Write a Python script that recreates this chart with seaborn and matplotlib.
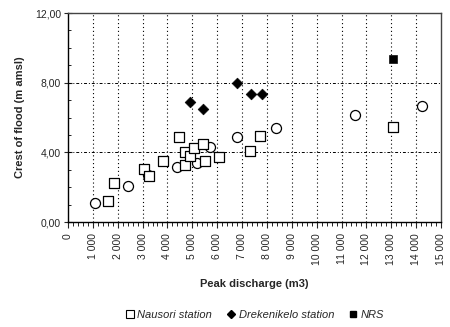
import matplotlib
matplotlib.use("Agg")
import matplotlib.pyplot as plt
from matplotlib.ticker import MultipleLocator, FuncFormatter
from matplotlib.lines import Line2D
import numpy as np
import pandas as pd
import seaborn as sns

# Nausori station (open markers; some drawn round, some square-ish)
nausori_q = [1090, 1625, 1870, 2400, 3040, 3200, 3240, 3840, 4380, 4450,
             4720, 4720, 4890, 5080, 5190, 5430, 5500, 5700, 6090, 6800,
             7340, 7740, 8350, 11530, 13050, 14230]
nausori_h = [1.11, 1.21, 2.26, 2.07, 3.03, 2.72, 2.62, 3.52, 3.14, 4.87,
             4.04, 3.28, 3.79, 4.23, 3.41, 4.48, 3.52, 4.33, 3.75, 4.87,
             4.10, 4.96, 5.42, 6.15, 5.48, 6.67]
nausori_shape = ['o', 's', 's', 'o', 's', 'o', 's', 's', 'o', 's',
                 's', 's', 's', 's', 'o', 's', 's', 'o', 's', 'o',
                 's', 's', 'o', 'o', 's', 'o']

# Drekenikelo station
drek_q = [4920, 5420, 6800, 7370, 7810]
drek_h = [6.91, 6.47, 7.97, 7.34, 7.34]

# NRS
nrs_q = [13080]
nrs_h = [9.35]

nausori = pd.DataFrame({'q': nausori_q, 'h': nausori_h, 'shape': nausori_shape})

sns.set_style("white")
plt.rcParams['font.family'] = ['Liberation Sans', 'DejaVu Sans']

fig = plt.figure(figsize=(4.5, 3.27), dpi=100)
ax = fig.add_axes([0.151, 0.321, 0.829, 0.639])

for shp, grp in nausori.groupby('shape'):
    sns.scatterplot(data=grp, x='q', y='h', marker=shp, s=52 if shp == 'o' else 42,
                    facecolor='white', edgecolor='black', linewidth=0.9,
                    legend=False, ax=ax, zorder=3)
sns.scatterplot(x=drek_q, y=drek_h, marker='D', s=30, color='black',
                edgecolor='black', legend=False, ax=ax, zorder=3)
sns.scatterplot(x=nrs_q, y=nrs_h, marker='s', s=32, color='black',
                edgecolor='black', legend=False, ax=ax, zorder=3)

ax.set_xlim(0, 15000)
ax.set_ylim(0, 12)
ax.xaxis.set_major_locator(MultipleLocator(1000))
ax.xaxis.set_minor_locator(MultipleLocator(200))
ax.yaxis.set_major_locator(MultipleLocator(4))
ax.yaxis.set_minor_locator(MultipleLocator(1))
ax.xaxis.set_major_formatter(FuncFormatter(lambda v, p: f"{int(v):,}".replace(',', ' ')))
ax.yaxis.set_major_formatter(FuncFormatter(lambda v, p: f"{v:.2f}".replace('.', ',')))
plt.setp(ax.get_xticklabels(), rotation=90)

ax.tick_params(axis='x', which='major', direction='out', length=4, width=0.8,
               labelsize=7.5, pad=4, bottom=True)
ax.tick_params(axis='x', which='minor', direction='out', length=3, width=0.7, bottom=True)
ax.tick_params(axis='y', which='major', direction='inout', length=6, width=0.8,
               labelsize=7.5, pad=2, left=True)
ax.tick_params(axis='y', which='minor', direction='in', length=2.5, width=0.7, left=True)

for x in range(1000, 15000, 1000):
    ax.axvline(x, color='black', linestyle=(0, (1, 2.5)), linewidth=0.8, zorder=1)
for y in [4, 8]:
    ax.axhline(y, color='black', linestyle=(0, (3, 2, 1, 2)), linewidth=0.7, zorder=1)

for side in ['left', 'bottom']:
    ax.spines[side].set_color('black')
    ax.spines[side].set_linewidth(1.0)
for side in ['top', 'right']:
    ax.spines[side].set_color('#444444')
    ax.spines[side].set_linewidth(1.0)

ax.set_xlabel('Peak discharge (m3)', fontsize=8, fontweight='bold', labelpad=10)
ax.set_ylabel('Crest of flood (m amsl)', fontsize=8, fontweight='bold', labelpad=7)

handles = [
    Line2D([], [], marker='s', linestyle='none', markerfacecolor='white',
           markeredgecolor='black', markersize=5.5, markeredgewidth=0.8),
    Line2D([], [], marker='D', linestyle='none', color='black', markersize=4),
    Line2D([], [], marker='s', linestyle='none', color='black', markersize=5),
]
labels = ['Nausori station', 'Drekenikelo station', 'NRS']
fig.legend(handles, labels, loc='center', bbox_to_anchor=(0.565, 0.036), ncol=3,
           frameon=False, prop={'size': 8, 'style': 'italic'},
           handletextpad=0.2, columnspacing=1.2, handlelength=1.0)

fig.savefig('out.png', dpi=100)
plt.close(fig)
